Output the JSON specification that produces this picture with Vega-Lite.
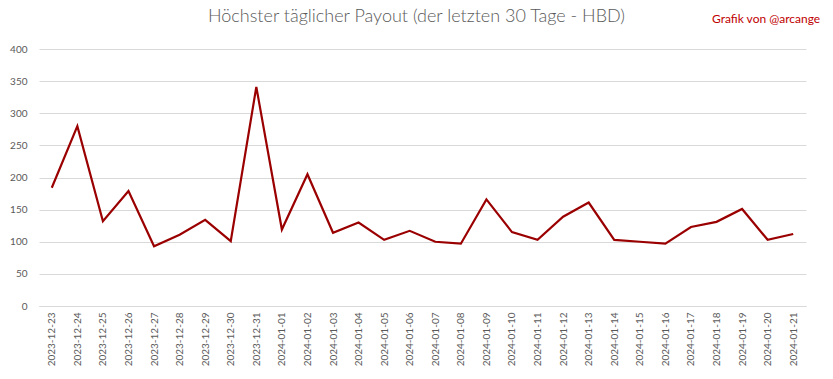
{
  "$schema": "https://vega.github.io/schema/vega-lite/v6.json",
  "width": 767,
  "height": 257,
  "autosize": "none",
  "padding": {"left": 39, "top": 49, "right": 27, "bottom": 73},
  "background": "white",
  "title": {
    "text": "Höchster täglicher Payout (der letzten 30 Tage - HBD)",
    "anchor": "middle",
    "frame": "group",
    "font": "Lato",
    "fontWeight": 300,
    "fontSize": 18,
    "color": "#595959",
    "offset": -13,
    "dx": -6
  },
  "data": {
    "values": [
      {"date": "2023-12-23", "payout": 184},
      {"date": "2023-12-24", "payout": 280},
      {"date": "2023-12-25", "payout": 132},
      {"date": "2023-12-26", "payout": 179},
      {"date": "2023-12-27", "payout": 93},
      {"date": "2023-12-28", "payout": 111},
      {"date": "2023-12-29", "payout": 134},
      {"date": "2023-12-30", "payout": 101},
      {"date": "2023-12-31", "payout": 341},
      {"date": "2024-01-01", "payout": 119},
      {"date": "2024-01-02", "payout": 205},
      {"date": "2024-01-03", "payout": 114},
      {"date": "2024-01-04", "payout": 130},
      {"date": "2024-01-05", "payout": 103},
      {"date": "2024-01-06", "payout": 117},
      {"date": "2024-01-07", "payout": 100},
      {"date": "2024-01-08", "payout": 97},
      {"date": "2024-01-09", "payout": 166},
      {"date": "2024-01-10", "payout": 115},
      {"date": "2024-01-11", "payout": 103},
      {"date": "2024-01-12", "payout": 139},
      {"date": "2024-01-13", "payout": 161},
      {"date": "2024-01-14", "payout": 103},
      {"date": "2024-01-15", "payout": 100},
      {"date": "2024-01-16", "payout": 97},
      {"date": "2024-01-17", "payout": 123},
      {"date": "2024-01-18", "payout": 131},
      {"date": "2024-01-19", "payout": 151},
      {"date": "2024-01-20", "payout": 103},
      {"date": "2024-01-21", "payout": 112}
    ]
  },
  "layer": [
    {
      "mark": {"type": "line", "color": "#9b0000", "strokeWidth": 2.2, "strokeJoin": "miter"},
      "encoding": {
        "x": {
          "field": "date",
          "type": "ordinal",
          "sort": null,
          "scale": {"paddingInner": 0, "paddingOuter": 0.5},
          "axis": {
            "title": null,
            "labelAngle": -90,
            "labelFont": "Lato",
            "labelFontSize": 10,
            "labelColor": "#595959",
            "labelPadding": 6,
            "ticks": false,
            "domainColor": "#d9d9d9",
            "grid": false
          }
        },
        "y": {
          "field": "payout",
          "type": "quantitative",
          "scale": {"domain": [0, 400], "nice": false},
          "axis": {
            "title": null,
            "values": [0, 50, 100, 150, 200, 250, 300, 350, 400],
            "tickCount": 12,
            "labelOverlap": false,
            "labelFont": "Lato",
            "labelFontSize": 10,
            "labelColor": "#595959",
            "labelPadding": 12,
            "ticks": false,
            "domain": false,
            "gridColor": "#d9d9d9",
            "gridWidth": 1
          }
        }
      }
    },
    {
      "data": {"values": [{"date": "2024-01-21", "y": 446, "label": "Grafik von @arcange"}]},
      "mark": {"type": "text", "align": "right", "baseline": "middle", "color": "#c00000", "font": "Lato", "fontSize": 12, "dx": 27, "clip": false},
      "encoding": {
        "x": {"field": "date", "type": "ordinal"},
        "y": {"field": "y", "type": "quantitative"},
        "text": {"field": "label"}
      }
    }
  ],
  "config": {"view": {"stroke": null}}
}
